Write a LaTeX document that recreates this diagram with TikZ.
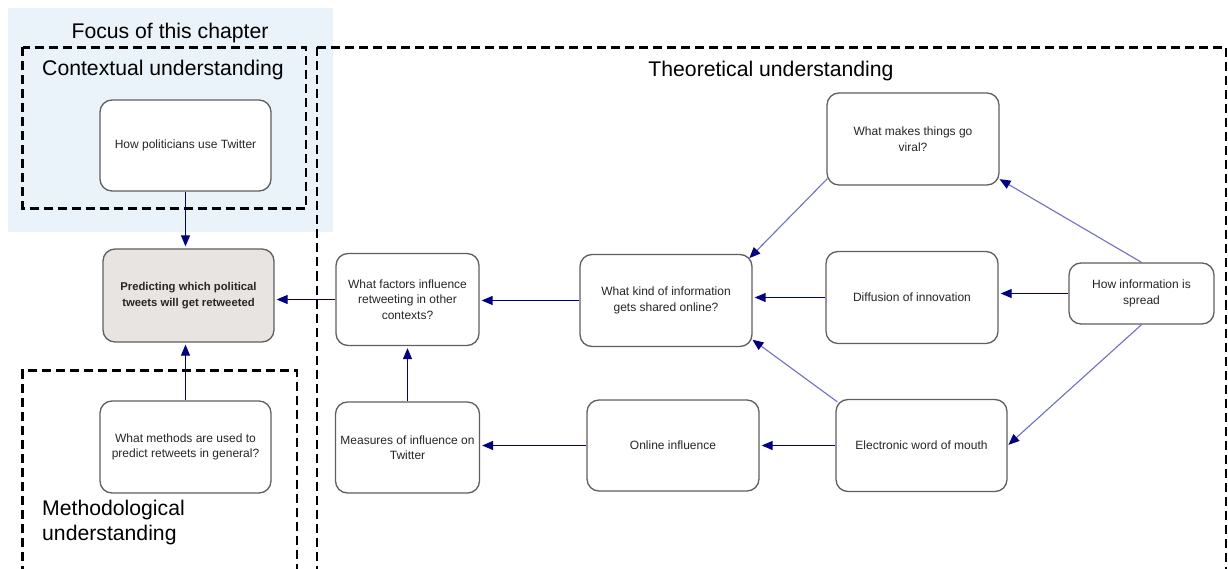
\documentclass[tikz,border=0pt]{standalone}
\usepackage{fontspec}
\setmainfont{Liberation Sans}
\usetikzlibrary{arrows.meta,calc}
\definecolor{focusbg}{RGB}{234,242,250}
\definecolor{boxline}{RGB}{95,95,95}
\definecolor{predfill}{RGB}{232,228,226}
\definecolor{arrnavy}{RGB}{0,0,128}
\definecolor{diagline}{RGB}{110,110,195}
\tikzset{
  qbox/.style={draw=boxline, line width=1.3pt, rounded corners=12pt, fill=white,
    align=center, font=\fontsize{12}{15.5}\selectfont, text=black!85,
    inner sep=2pt},
  grouplabel/.style={font=\fontsize{21.2}{24.5}\selectfont, text=black, inner sep=0pt},
  groupbox/.style={draw=black, line width=2.2pt, dash pattern=on 9pt off 5pt},
  link/.style={draw=arrnavy, line width=1.1pt, -{Triangle[length=11pt,width=9pt]}, shorten >=2pt},
  dlink/.style={draw=diagline, line width=1.1pt, -{Triangle[length=11pt,width=9pt,color=arrnavy]}, shorten >=1pt}
}
\begin{document}
\begin{tikzpicture}[x=1pt,y=-1pt]
\useasboundingbox (0,0) rectangle (1228,569);
% focus background
\fill[focusbg] (8,8) rectangle (333,232);
\node[grouplabel] (focus) at (170,33) {Focus of this chapter};
% group boxes
\draw[groupbox] (22.5,47.5) rectangle (306,208.5);
\draw[groupbox] (317,47.5) -- (1226,47.5) -- (1226,575);
\draw[groupbox] (317,47.5) -- (317,575);
\draw[groupbox] (22.5,575) -- (22.5,370.5) -- (297,370.5) -- (297,575);
\node[grouplabel, anchor=west] (ctx) at (42,70) {Contextual understanding};
\node[grouplabel] (theo) at (771,71) {Theoretical understanding};
\node[grouplabel, anchor=north west, align=left] (meth lbl) at (42,500) {Methodological\\understanding};
% nodes
\node[qbox, minimum width=171pt, minimum height=91pt] (pol) at (185.5,145.5) {How politicians use Twitter};
\node[qbox, fill=predfill, minimum width=171pt, minimum height=93pt, font=\fontsize{11.3}{15.5}\selectfont\bfseries] (pred) at (188.5,295.5) {Predicting which political\\tweets will get retweeted};
\node[qbox, minimum width=171pt, minimum height=92pt] (meth) at (185.5,447) {What methods are used to\\predict retweets in general?};
\node[qbox, minimum width=143pt, minimum height=92pt] (fact) at (407.5,299.5) {What factors influence\\retweeting in other\\contexts?};
\node[qbox, minimum width=144pt, minimum height=91pt] (meas) at (407.5,447.5) {Measures of influence on\\Twitter};
\node[qbox, minimum width=172pt, minimum height=92pt] (kind) at (666,300.5) {What kind of information\\gets shared online?};
\node[qbox, minimum width=172pt, minimum height=91pt] (onl) at (673,445.5) {Online influence};
\node[qbox, minimum width=172pt, minimum height=92pt] (viral) at (913,139) {What makes things go\\viral?};
\node[qbox, minimum width=172pt, minimum height=92pt] (diff) at (912,297.5) {Diffusion of innovation};
\node[qbox, minimum width=171pt, minimum height=92pt] (ewom) at (921.5,445.5) {Electronic word of mouth};
\node[qbox, minimum width=145pt, minimum height=61pt] (spread) at (1141.5,293.5) {How information is\\spread};
% connectors
\draw[link] (pol.south) -- (pol.south |- pred.north);
\draw[link] (meth.north) -- (meth.north |- pred.south);
\draw[link] (fact.west) -- (fact.west -| pred.east);
\draw[link] (meas.north) -- (meas.north |- fact.south);
\draw[link] (kind.west) -- (kind.west -| fact.east);
\draw[link] (onl.west) -- (onl.west -| meas.east);
\draw[link] (ewom.west) -- (ewom.west -| onl.east);
\draw[link] (diff.west) -- (diff.west -| kind.east);
\draw[link] (spread.west) -- (spread.west -| diff.east);
\draw[dlink] ($(viral.south west)+(1,-7)$) -- ($(kind.north east)+(-4,5)$);
\draw[dlink] ($(ewom.north west)+(2,3)$) -- ($(kind.south east)+(-1,-8)$);
\draw[dlink] (spread.north) -- ($(viral.south east)+(-1,-7)$);
\draw[dlink] (spread.south) -- (ewom.east);
\end{tikzpicture}
\end{document}
